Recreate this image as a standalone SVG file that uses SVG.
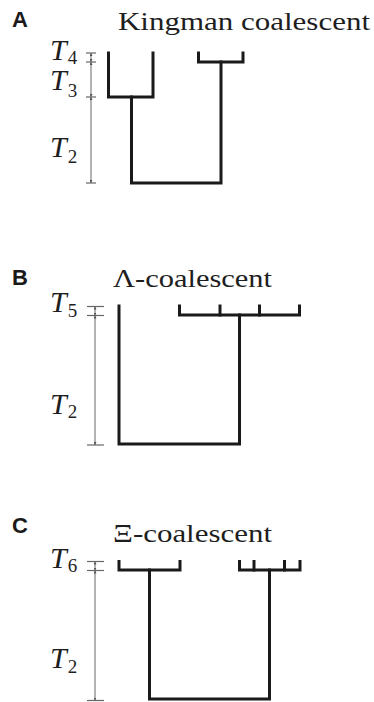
<svg xmlns="http://www.w3.org/2000/svg" width="374" height="702" viewBox="0 0 374 702">
<style>
.panel{font-family:"Liberation Sans",Arial,sans-serif;font-weight:bold;font-size:22px;fill:#1a1a1a}
.title{font-family:"Liberation Serif","Times New Roman",serif;font-size:25px;fill:#1e1e1e}
.tv{font-family:"Liberation Serif","Times New Roman",serif;font-style:italic;font-size:30px;fill:#1e1e1e}
.sub{font-family:"Liberation Serif","Times New Roman",serif;font-style:normal;font-size:19px;fill:#1e1e1e}
.tree{fill:none;stroke:#1a1a1a;stroke-width:3;stroke-linecap:square;stroke-linejoin:miter}
.bar{fill:none;stroke:#666;stroke-width:1}
.tick{fill:none;stroke:#666;stroke-width:1.2}
</style>
<defs>
<marker id="ah" viewBox="0 0 6 6" refX="6" refY="3" markerWidth="3" markerHeight="3" orient="auto-start-reverse" markerUnits="userSpaceOnUse">
<path d="M0,0 L6,3 L0,6 Z" fill="#555"/>
</marker>
</defs>

<g id="panelA">
<text class="panel" x="12" y="26.7">A</text>
<text class="title" x="118" y="30" textLength="252" lengthAdjust="spacingAndGlyphs">Kingman coalescent</text>
<g id="labelsA">
<text class="tv" x="50" y="60">T<tspan class="sub" dx="1" dy="4">4</tspan></text>
<text class="tv" x="50" y="90">T<tspan class="sub" dx="1" dy="6.5">3</tspan></text>
<text class="tv" x="50" y="157">T<tspan class="sub" dx="1" dy="6">2</tspan></text>
</g>
<g id="scaleA">
<line class="tick" x1="86" y1="53" x2="96" y2="53"/>
<line class="tick" x1="86" y1="62" x2="96" y2="62"/>
<line class="tick" x1="86" y1="97" x2="96" y2="97"/>
<line class="tick" x1="86" y1="183" x2="96" y2="183"/>
<line class="bar" x1="91" y1="53" x2="91" y2="62" marker-start="url(#ah)" marker-end="url(#ah)"/>
<line class="bar" x1="91" y1="62" x2="91" y2="97" marker-start="url(#ah)" marker-end="url(#ah)"/>
<line class="bar" x1="91" y1="97" x2="91" y2="183" marker-start="url(#ah)" marker-end="url(#ah)"/>
</g>
<g id="treeA">
<path class="tree" d="M108.5,53 V97 H153 V53"/>
<path class="tree" d="M198.5,53 V62 H243 V53"/>
<path class="tree" d="M131.5,97 V183 H221 V62"/>
</g>
</g>

<g id="panelB">
<text class="panel" x="12" y="285">B</text>
<text class="title" x="113" y="286.5" textLength="159" lengthAdjust="spacingAndGlyphs">Λ-coalescent</text>
<g id="labelsB">
<text class="tv" x="50" y="312">T<tspan class="sub" dx="1" dy="5">5</tspan></text>
<text class="tv" x="50" y="414">T<tspan class="sub" dx="1" dy="4">2</tspan></text>
</g>
<g id="scaleB">
<line class="tick" x1="87" y1="306.5" x2="104" y2="306.5"/>
<line class="tick" x1="87" y1="315.5" x2="104" y2="315.5"/>
<line class="tick" x1="87" y1="445" x2="104" y2="445"/>
<line class="bar" x1="95" y1="306.5" x2="95" y2="315.5" marker-start="url(#ah)" marker-end="url(#ah)"/>
<line class="bar" x1="95" y1="315.5" x2="95" y2="445" marker-start="url(#ah)" marker-end="url(#ah)"/>
</g>
<g id="treeB">
<path class="tree" d="M119,306 V444 H239.5 V315"/>
<path class="tree" d="M179.5,306 V315 H299.5 V306"/>
<path class="tree" d="M220,306 V315"/>
<path class="tree" d="M259.5,306 V315"/>
</g>
</g>

<g id="panelC">
<text class="panel" x="12" y="533">C</text>
<text class="title" x="113" y="541.5" textLength="159" lengthAdjust="spacingAndGlyphs">Ξ-coalescent</text>
<g id="labelsC">
<text class="tv" x="50" y="568">T<tspan class="sub" dx="1" dy="4">6</tspan></text>
<text class="tv" x="50" y="668">T<tspan class="sub" dx="1" dy="5">2</tspan></text>
</g>
<g id="scaleC">
<line class="tick" x1="87" y1="561.5" x2="104" y2="561.5"/>
<line class="tick" x1="87" y1="570.5" x2="104" y2="570.5"/>
<line class="tick" x1="87" y1="700.5" x2="104" y2="700.5"/>
<line class="bar" x1="95" y1="561.5" x2="95" y2="570.5" marker-start="url(#ah)" marker-end="url(#ah)"/>
<line class="bar" x1="95" y1="570.5" x2="95" y2="700.5" marker-start="url(#ah)" marker-end="url(#ah)"/>
</g>
<g id="treeC">
<path class="tree" d="M119,561.5 V570 H180 V561.5"/>
<path class="tree" d="M149.5,570 V699 H269.5 V570"/>
<path class="tree" d="M239.5,561.5 V570 H300 V561.5"/>
<path class="tree" d="M254,561.5 V570"/>
<path class="tree" d="M284.5,561.5 V570"/>
</g>
</g>
</svg>
